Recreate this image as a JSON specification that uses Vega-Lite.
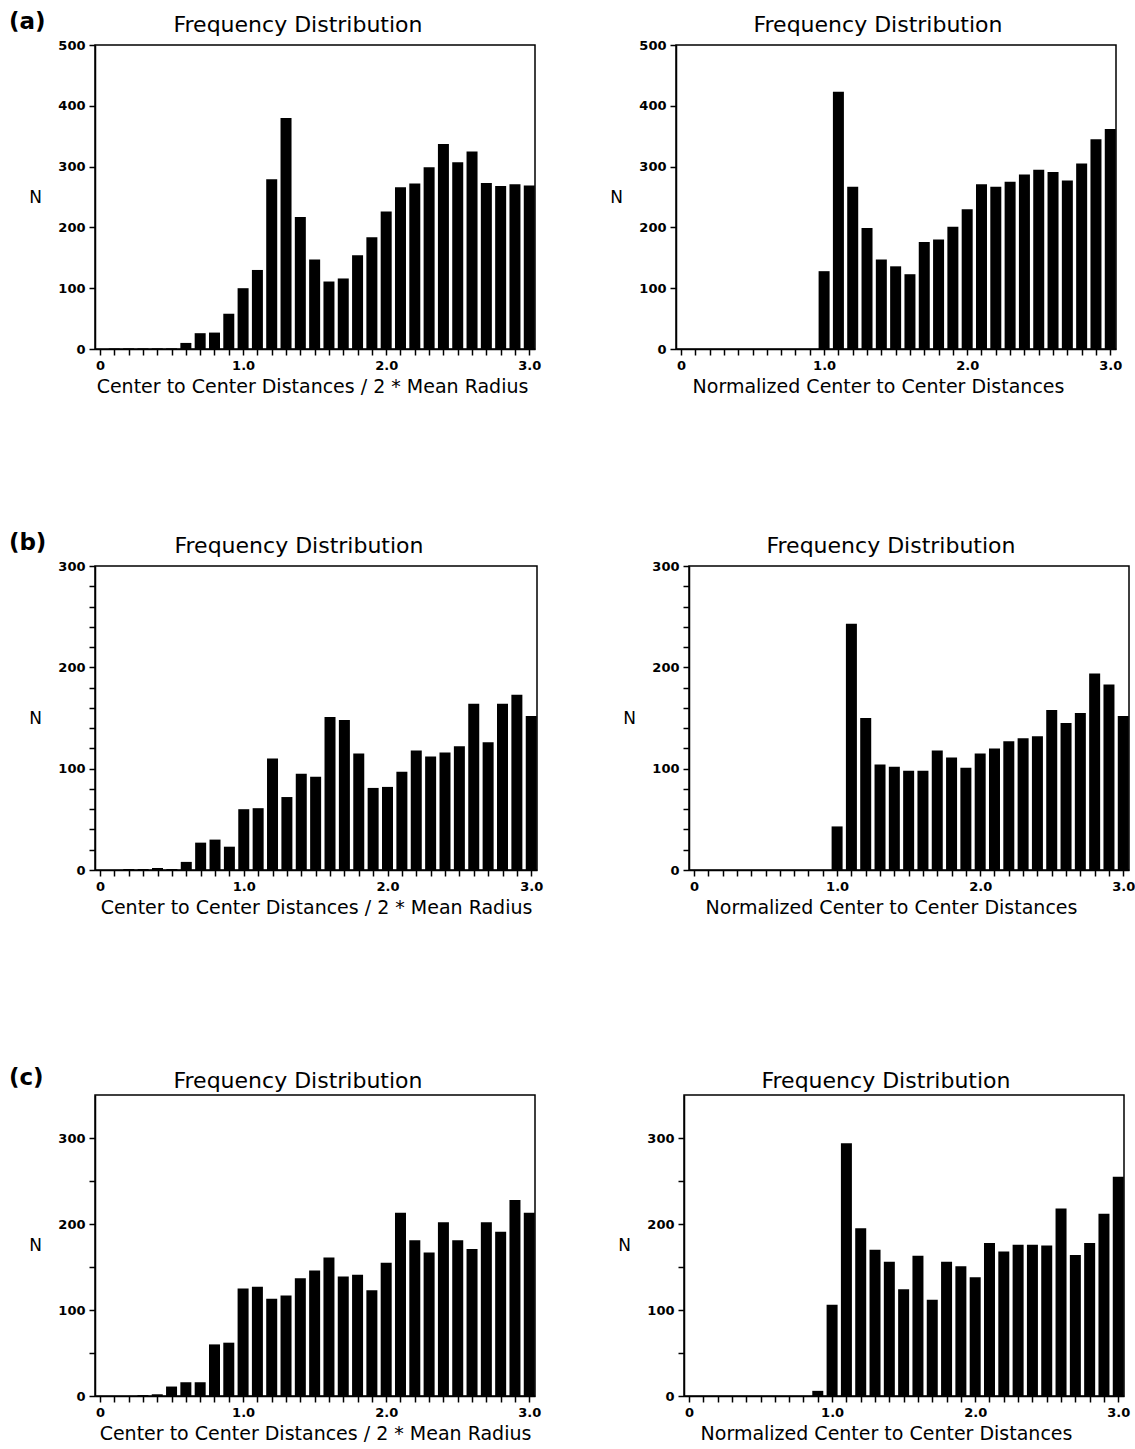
{
  "$schema": "https://vega.github.io/schema/vega-lite/v6.json",
  "padding": {"left": 8, "top": 11, "right": 0, "bottom": 0},
  "datasets": {
    "a1": [
      {"d": 0, "n": 0}, {"d": 0.1, "n": 1}, {"d": 0.2, "n": 1}, {"d": 0.3, "n": 1}, {"d": 0.4, "n": 1}, {"d": 0.5, "n": 1},
      {"d": 0.6, "n": 10}, {"d": 0.7, "n": 26}, {"d": 0.8, "n": 27}, {"d": 0.9, "n": 58}, {"d": 1.0, "n": 100},
      {"d": 1.1, "n": 130}, {"d": 1.2, "n": 279}, {"d": 1.3, "n": 380}, {"d": 1.4, "n": 217}, {"d": 1.5, "n": 147},
      {"d": 1.6, "n": 111}, {"d": 1.7, "n": 116}, {"d": 1.8, "n": 154}, {"d": 1.9, "n": 184}, {"d": 2.0, "n": 226},
      {"d": 2.1, "n": 266}, {"d": 2.2, "n": 272}, {"d": 2.3, "n": 299}, {"d": 2.4, "n": 337}, {"d": 2.5, "n": 307},
      {"d": 2.6, "n": 325}, {"d": 2.7, "n": 273}, {"d": 2.8, "n": 268}, {"d": 2.9, "n": 271}, {"d": 3.0, "n": 269}
    ],
    "a2": [
      {"d": 0, "n": 0}, {"d": 0.1, "n": 0}, {"d": 0.2, "n": 0}, {"d": 0.3, "n": 0}, {"d": 0.4, "n": 0}, {"d": 0.5, "n": 0},
      {"d": 0.6, "n": 0}, {"d": 0.7, "n": 0}, {"d": 0.8, "n": 0}, {"d": 0.9, "n": 0}, {"d": 1.0, "n": 128},
      {"d": 1.1, "n": 423}, {"d": 1.2, "n": 267}, {"d": 1.3, "n": 199}, {"d": 1.4, "n": 147}, {"d": 1.5, "n": 136},
      {"d": 1.6, "n": 123}, {"d": 1.7, "n": 176}, {"d": 1.8, "n": 180}, {"d": 1.9, "n": 201}, {"d": 2.0, "n": 230},
      {"d": 2.1, "n": 271}, {"d": 2.2, "n": 267}, {"d": 2.3, "n": 275}, {"d": 2.4, "n": 287}, {"d": 2.5, "n": 295},
      {"d": 2.6, "n": 291}, {"d": 2.7, "n": 277}, {"d": 2.8, "n": 305}, {"d": 2.9, "n": 345}, {"d": 3.0, "n": 362}
    ],
    "b1": [
      {"d": 0, "n": 0}, {"d": 0.1, "n": 0}, {"d": 0.2, "n": 1}, {"d": 0.3, "n": 1}, {"d": 0.4, "n": 2}, {"d": 0.5, "n": 1},
      {"d": 0.6, "n": 8}, {"d": 0.7, "n": 27}, {"d": 0.8, "n": 30}, {"d": 0.9, "n": 23}, {"d": 1.0, "n": 60},
      {"d": 1.1, "n": 61}, {"d": 1.2, "n": 110}, {"d": 1.3, "n": 72}, {"d": 1.4, "n": 95}, {"d": 1.5, "n": 92},
      {"d": 1.6, "n": 151}, {"d": 1.7, "n": 148}, {"d": 1.8, "n": 115}, {"d": 1.9, "n": 81}, {"d": 2.0, "n": 82},
      {"d": 2.1, "n": 97}, {"d": 2.2, "n": 118}, {"d": 2.3, "n": 112}, {"d": 2.4, "n": 116}, {"d": 2.5, "n": 122},
      {"d": 2.6, "n": 164}, {"d": 2.7, "n": 126}, {"d": 2.8, "n": 164}, {"d": 2.9, "n": 173}, {"d": 3.0, "n": 152}
    ],
    "b2": [
      {"d": 0, "n": 0}, {"d": 0.1, "n": 0}, {"d": 0.2, "n": 0}, {"d": 0.3, "n": 0}, {"d": 0.4, "n": 0}, {"d": 0.5, "n": 0},
      {"d": 0.6, "n": 0}, {"d": 0.7, "n": 0}, {"d": 0.8, "n": 0}, {"d": 0.9, "n": 0}, {"d": 1.0, "n": 43},
      {"d": 1.1, "n": 243}, {"d": 1.2, "n": 150}, {"d": 1.3, "n": 104}, {"d": 1.4, "n": 102}, {"d": 1.5, "n": 98},
      {"d": 1.6, "n": 98}, {"d": 1.7, "n": 118}, {"d": 1.8, "n": 111}, {"d": 1.9, "n": 101}, {"d": 2.0, "n": 115},
      {"d": 2.1, "n": 120}, {"d": 2.2, "n": 127}, {"d": 2.3, "n": 130}, {"d": 2.4, "n": 132}, {"d": 2.5, "n": 158},
      {"d": 2.6, "n": 145}, {"d": 2.7, "n": 155}, {"d": 2.8, "n": 194}, {"d": 2.9, "n": 183}, {"d": 3.0, "n": 152}
    ],
    "c1": [
      {"d": 0, "n": 0}, {"d": 0.1, "n": 0}, {"d": 0.2, "n": 0}, {"d": 0.3, "n": 1}, {"d": 0.4, "n": 2}, {"d": 0.5, "n": 11},
      {"d": 0.6, "n": 16}, {"d": 0.7, "n": 16}, {"d": 0.8, "n": 60}, {"d": 0.9, "n": 62}, {"d": 1.0, "n": 125},
      {"d": 1.1, "n": 127}, {"d": 1.2, "n": 113}, {"d": 1.3, "n": 117}, {"d": 1.4, "n": 137}, {"d": 1.5, "n": 146},
      {"d": 1.6, "n": 161}, {"d": 1.7, "n": 139}, {"d": 1.8, "n": 141}, {"d": 1.9, "n": 123}, {"d": 2.0, "n": 155},
      {"d": 2.1, "n": 213}, {"d": 2.2, "n": 181}, {"d": 2.3, "n": 167}, {"d": 2.4, "n": 202}, {"d": 2.5, "n": 181},
      {"d": 2.6, "n": 171}, {"d": 2.7, "n": 202}, {"d": 2.8, "n": 191}, {"d": 2.9, "n": 228}, {"d": 3.0, "n": 213}
    ],
    "c2": [
      {"d": 0, "n": 0}, {"d": 0.1, "n": 0}, {"d": 0.2, "n": 0}, {"d": 0.3, "n": 0}, {"d": 0.4, "n": 0}, {"d": 0.5, "n": 0},
      {"d": 0.6, "n": 0}, {"d": 0.7, "n": 0}, {"d": 0.8, "n": 0}, {"d": 0.9, "n": 6}, {"d": 1.0, "n": 106},
      {"d": 1.1, "n": 294}, {"d": 1.2, "n": 195}, {"d": 1.3, "n": 170}, {"d": 1.4, "n": 156}, {"d": 1.5, "n": 124},
      {"d": 1.6, "n": 163}, {"d": 1.7, "n": 112}, {"d": 1.8, "n": 156}, {"d": 1.9, "n": 151}, {"d": 2.0, "n": 138},
      {"d": 2.1, "n": 178}, {"d": 2.2, "n": 168}, {"d": 2.3, "n": 176}, {"d": 2.4, "n": 176}, {"d": 2.5, "n": 175},
      {"d": 2.6, "n": 218}, {"d": 2.7, "n": 164}, {"d": 2.8, "n": 178}, {"d": 2.9, "n": 212}, {"d": 3.0, "n": 255}
    ]
  },
  "spacing": 135,
  "vconcat": [
    {
      "title": {"text": "(a)", "anchor": "start", "fontWeight": "bold", "fontSize": 23, "offset": -21, "dx": -19},
      "spacing": 66,
      "hconcat": [
        {
          "data": {"name": "a1"}, "width": 440, "height": 304, "title": {"text": "Frequency Distribution", "dx": -17},
          "mark": {"type": "bar", "color": "black", "width": 11, "orient": "vertical"},
          "encoding": {
            "x": {"field": "d", "type": "quantitative", "scale": {"domain": [-0.035, 3.04], "nice": false, "zero": false, "padding": 0},
              "axis": {"title": "Center to Center Distances / 2 * Mean Radius", "titleX": 217, "values": [0,0.1,0.2,0.3,0.4,0.5,0.6,0.7,0.8,0.9,1,1.1,1.2,1.3,1.4,1.5,1.6,1.7,1.8,1.9,2,2.1,2.2,2.3,2.4,2.5,2.6,2.7,2.8,2.9,3],
                "labelExpr": "datum.value == 0 ? '0' : (datum.value == 1 || datum.value == 2 || datum.value == 3 ? format(datum.value, '.1f') : '')"}},
            "y": {"field": "n", "type": "quantitative", "scale": {"domain": [0, 500], "nice": false},
              "axis": {"title": "N", "values": [0,100,200,300,400,500]}}
          }
        },
        {
          "data": {"name": "a2"}, "width": 440, "height": 304, "title": {"text": "Frequency Distribution", "dx": -18},
          "mark": {"type": "bar", "color": "black", "width": 11, "orient": "vertical"},
          "encoding": {
            "x": {"field": "d", "type": "quantitative", "scale": {"domain": [-0.035, 3.04], "nice": false, "zero": false, "padding": 0},
              "axis": {"title": "Normalized Center to Center Distances", "titleX": 202, "values": [0,0.1,0.2,0.3,0.4,0.5,0.6,0.7,0.8,0.9,1,1.1,1.2,1.3,1.4,1.5,1.6,1.7,1.8,1.9,2,2.1,2.2,2.3,2.4,2.5,2.6,2.7,2.8,2.9,3],
                "labelExpr": "datum.value == 0 ? '0' : (datum.value == 1 || datum.value == 2 || datum.value == 3 ? format(datum.value, '.1f') : '')"}},
            "y": {"field": "n", "type": "quantitative", "scale": {"domain": [0, 500], "nice": false},
              "axis": {"title": "N", "values": [0,100,200,300,400,500]}}
          }
        }
      ]
    },
    {
      "spacing": 149,
      "vconcat": [
        {
          "title": {"text": "(b)", "anchor": "start", "fontWeight": "bold", "fontSize": 23, "offset": -21, "dx": -19},
          "spacing": 77,
          "hconcat": [
            {
              "data": {"name": "b1"}, "width": 442, "height": 304, "title": {"text": "Frequency Distribution", "dx": -17},
              "mark": {"type": "bar", "color": "black", "width": 11, "orient": "vertical"},
              "encoding": {
                "x": {"field": "d", "type": "quantitative", "scale": {"domain": [-0.035, 3.04], "nice": false, "zero": false, "padding": 0},
                  "axis": {"title": "Center to Center Distances / 2 * Mean Radius", "values": [0,0.1,0.2,0.3,0.4,0.5,0.6,0.7,0.8,0.9,1,1.1,1.2,1.3,1.4,1.5,1.6,1.7,1.8,1.9,2,2.1,2.2,2.3,2.4,2.5,2.6,2.7,2.8,2.9,3],
                    "labelExpr": "datum.value == 0 ? '0' : (datum.value == 1 || datum.value == 2 || datum.value == 3 ? format(datum.value, '.1f') : '')"}},
                "y": {"field": "n", "type": "quantitative", "scale": {"domain": [0, 300], "nice": false},
                  "axis": {"title": "N", "values": [0,20,40,60,80,100,120,140,160,180,200,220,240,260,280,300],
                    "labelExpr": "datum.value % 100 == 0 ? datum.label : ''"}}
              }
            },
            {
              "data": {"name": "b2"}, "width": 440, "height": 304, "title": {"text": "Frequency Distribution", "dx": -18},
              "mark": {"type": "bar", "color": "black", "width": 11, "orient": "vertical"},
              "encoding": {
                "x": {"field": "d", "type": "quantitative", "scale": {"domain": [-0.035, 3.04], "nice": false, "zero": false, "padding": 0},
                  "axis": {"title": "Normalized Center to Center Distances", "titleX": 202, "values": [0,0.1,0.2,0.3,0.4,0.5,0.6,0.7,0.8,0.9,1,1.1,1.2,1.3,1.4,1.5,1.6,1.7,1.8,1.9,2,2.1,2.2,2.3,2.4,2.5,2.6,2.7,2.8,2.9,3],
                    "labelExpr": "datum.value == 0 ? '0' : (datum.value == 1 || datum.value == 2 || datum.value == 3 ? format(datum.value, '.1f') : '')"}},
                "y": {"field": "n", "type": "quantitative", "scale": {"domain": [0, 300], "nice": false},
                  "axis": {"title": "N", "values": [0,20,40,60,80,100,120,140,160,180,200,220,240,260,280,300],
                    "labelExpr": "datum.value % 100 == 0 ? datum.label : ''"}}
              }
            }
          ]
        },
        {
          "title": {"text": "(c)", "anchor": "start", "fontWeight": "bold", "fontSize": 23, "offset": -21, "dx": -19},
          "spacing": 74,
          "hconcat": [
            {
              "data": {"name": "c1"}, "width": 440, "height": 301, "title": {"text": "Frequency Distribution", "dx": -17},
              "mark": {"type": "bar", "color": "black", "width": 11, "orient": "vertical"},
              "encoding": {
                "x": {"field": "d", "type": "quantitative", "scale": {"domain": [-0.035, 3.04], "nice": false, "zero": false, "padding": 0},
                  "axis": {"title": "Center to Center Distances / 2 * Mean Radius", "values": [0,0.1,0.2,0.3,0.4,0.5,0.6,0.7,0.8,0.9,1,1.1,1.2,1.3,1.4,1.5,1.6,1.7,1.8,1.9,2,2.1,2.2,2.3,2.4,2.5,2.6,2.7,2.8,2.9,3],
                    "labelExpr": "datum.value == 0 ? '0' : (datum.value == 1 || datum.value == 2 || datum.value == 3 ? format(datum.value, '.1f') : '')"}},
                "y": {"field": "n", "type": "quantitative", "scale": {"domain": [0, 350], "nice": false},
                  "axis": {"title": "N", "values": [0,50,100,150,200,250,300],
                    "labelExpr": "datum.value % 100 == 0 ? datum.label : ''"}}
              }
            },
            {
              "data": {"name": "c2"}, "width": 440, "height": 301, "title": {"text": "Frequency Distribution", "dx": -18},
              "mark": {"type": "bar", "color": "black", "width": 11, "orient": "vertical"},
              "encoding": {
                "x": {"field": "d", "type": "quantitative", "scale": {"domain": [-0.035, 3.04], "nice": false, "zero": false, "padding": 0},
                  "axis": {"title": "Normalized Center to Center Distances", "titleX": 202, "values": [0,0.1,0.2,0.3,0.4,0.5,0.6,0.7,0.8,0.9,1,1.1,1.2,1.3,1.4,1.5,1.6,1.7,1.8,1.9,2,2.1,2.2,2.3,2.4,2.5,2.6,2.7,2.8,2.9,3],
                    "labelExpr": "datum.value == 0 ? '0' : (datum.value == 1 || datum.value == 2 || datum.value == 3 ? format(datum.value, '.1f') : '')"}},
                "y": {"field": "n", "type": "quantitative", "scale": {"domain": [0, 350], "nice": false},
                  "axis": {"title": "N", "values": [0,50,100,150,200,250,300],
                    "labelExpr": "datum.value % 100 == 0 ? datum.label : ''"}}
              }
            }
          ]
        }
      ]
    }
  ],
  "config": {
    "font": "DejaVu Sans",
    "background": "white",
    "view": {"stroke": "black", "strokeWidth": 1.5},
    "axis": {
      "grid": false, "domainColor": "black", "domainWidth": 1.5, "tickColor": "black", "tickWidth": 1.5, "tickSize": 6,
      "labelColor": "black", "labelFontWeight": "bold", "labelFontSize": 13, "labelPadding": 4, "labelOverlap": false, "labelFlush": false,
      "titleColor": "black", "titleFontWeight": "normal", "titleFontSize": 19
    },
    "axisX": {"titlePadding": 5},
    "axisY": {"titleAngle": 0, "titleAlign": "center", "titleBaseline": "middle", "titleX": -60, "titleFontSize": 17},
    "title": {"fontSize": 22, "fontWeight": "normal", "color": "black", "offset": 2}
  }
}
